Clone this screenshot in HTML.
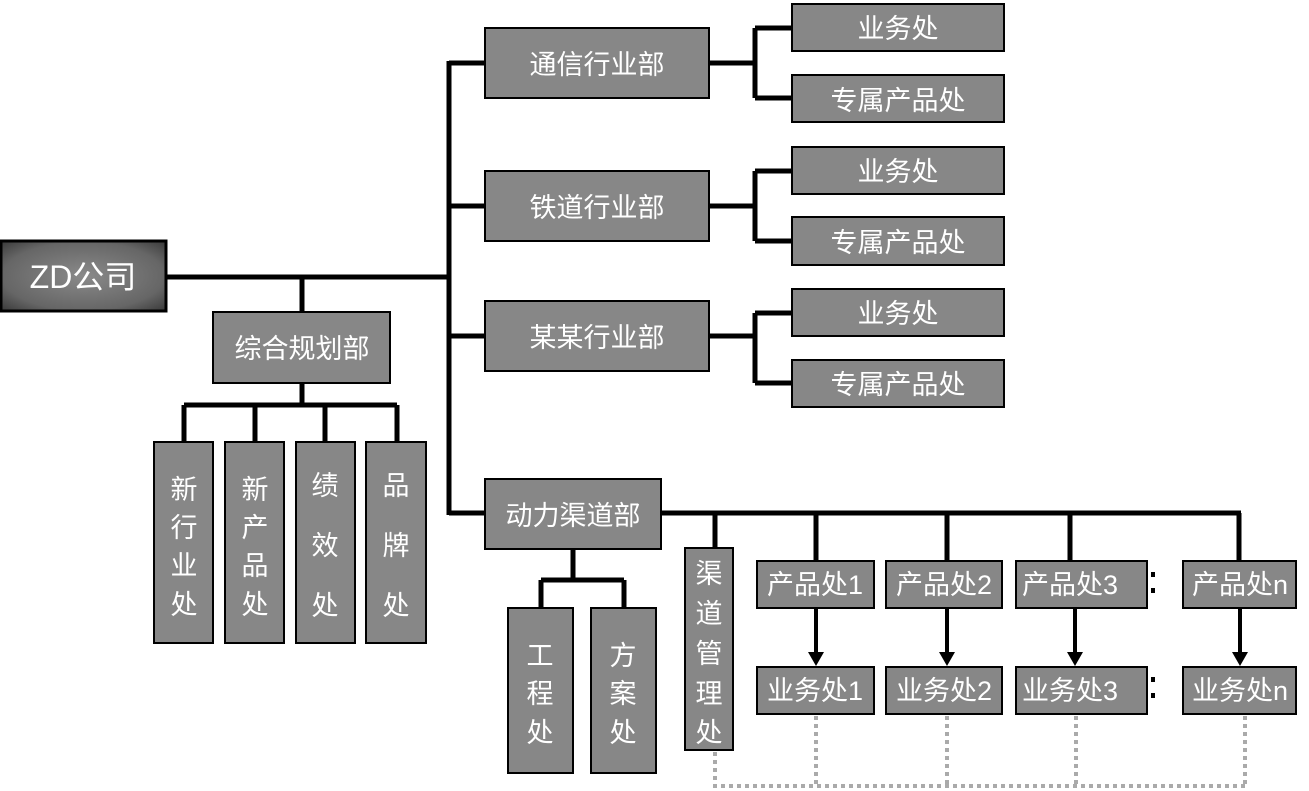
<!DOCTYPE html>
<html><head><meta charset="utf-8"><style>
html,body{margin:0;padding:0;background:#fff;}
svg{display:block;}
text{font-family:"Liberation Sans","Noto Sans CJK SC",sans-serif;fill:#fff;font-size:27px;text-anchor:middle;dominant-baseline:central;}
.b{fill:#878787;stroke:#000;stroke-width:2;}
.l{stroke:#000;stroke-width:5;fill:none;}
.d{stroke:#aaa;stroke-width:4;fill:none;stroke-dasharray:4 4;}
</style></head><body>
<svg width="1309" height="791" viewBox="0 0 1309 791" xmlns="http://www.w3.org/2000/svg">
<defs>
<radialGradient id="g" cx="50%" cy="50%" r="70%"><stop offset="0" stop-color="#8a8a8a"/><stop offset="0.7" stop-color="#666"/><stop offset="1" stop-color="#3a3a3a"/></radialGradient>
</defs>
<path class="l" d="M166 277H449M449 61V515M449 63H485M449 206H485M449 336H485M449 513H485"/>
<path class="l" d="M302 277V312M302 383V405M184 405H397M184 405V442M255 405V442M325 405V442M397 405V442"/>
<path class="l" d="M709 63H755M755 28V98M755 28H792M755 98H792"/>
<path class="l" d="M709 206H755M755 171V241M755 171H792M755 241H792"/>
<path class="l" d="M709 336H755M755 313V383M755 313H792M755 383H792"/>
<path class="l" d="M661 513H1241M715 513V548M816 513V561M947 513V561M1070 513V561M1239 513V561"/>
<path class="l" d="M573 549V580M541 580H624M541 580V608M624 580V608"/>
<path stroke="#000" stroke-width="4" d="M816 608V655M947 608V655M1075 608V655M1240 608V655"/>
<path fill="#000" d="M808 652h16l-8 14zM939 652h16l-8 14zM1067 652h16l-8 14zM1232 652h16l-8 14z"/>
<path class="d" d="M715 752V786H1246M816 716V786M947 716V786M1076 716V786M1245 716V786"/>
<rect x="1" y="241" width="165" height="70" fill="url(#g)" stroke="#000" stroke-width="3"/>
<text x="83" y="277" style="font-size:32px">ZD公司</text>
<rect class="b" x="213" y="312" width="177" height="71"/><text x="302" y="349">综合规划部</text>
<rect class="b" x="154" y="442" width="59" height="201"/>
<text x="184" y="490">新</text><text x="184" y="528">行</text><text x="184" y="566">业</text><text x="184" y="605">处</text>
<rect class="b" x="225" y="442" width="59" height="201"/>
<text x="255" y="490">新</text><text x="255" y="528">产</text><text x="255" y="566">品</text><text x="255" y="605">处</text>
<rect class="b" x="296" y="442" width="59" height="201"/>
<text x="325" y="486">绩</text><text x="325" y="546">效</text><text x="325" y="606">处</text>
<rect class="b" x="366" y="442" width="60" height="201"/>
<text x="396" y="486">品</text><text x="396" y="546">牌</text><text x="396" y="606">处</text>
<rect class="b" x="485" y="28" width="224" height="70"/><text x="597" y="65">通信行业部</text>
<rect class="b" x="485" y="171" width="224" height="70"/><text x="597" y="208">铁道行业部</text>
<rect class="b" x="485" y="301" width="224" height="70"/><text x="597" y="338">某某行业部</text>
<rect class="b" x="485" y="479" width="176" height="70"/><text x="573" y="516">动力渠道部</text>
<rect class="b" x="792" y="4" width="212" height="47"/><text x="898" y="29">业务处</text>
<rect class="b" x="792" y="75" width="212" height="47"/><text x="898" y="101">专属产品处</text>
<rect class="b" x="792" y="147" width="212" height="47"/><text x="898" y="172">业务处</text>
<rect class="b" x="792" y="217" width="212" height="48"/><text x="898" y="243">专属产品处</text>
<rect class="b" x="792" y="289" width="212" height="47"/><text x="898" y="314">业务处</text>
<rect class="b" x="792" y="360" width="212" height="47"/><text x="898" y="385">专属产品处</text>
<rect class="b" x="508" y="608" width="65" height="165"/>
<text x="540" y="656">工</text><text x="540" y="694">程</text><text x="540" y="733">处</text>
<rect class="b" x="591" y="608" width="65" height="165"/>
<text x="623" y="656">方</text><text x="623" y="694">案</text><text x="623" y="733">处</text>
<rect class="b" x="685" y="548" width="48" height="202"/>
<text x="709" y="574">渠</text><text x="709" y="614">道</text><text x="709" y="654">管</text><text x="709" y="694">理</text><text x="709" y="733">处</text>
<rect class="b" x="757" y="561" width="117" height="47"/><text x="815" y="585">产品处1</text>
<rect class="b" x="886" y="561" width="116" height="47"/><text x="944" y="585">产品处2</text>
<rect class="b" x="1016" y="561" width="131" height="47"/><text x="1070" y="585">产品处3</text>
<rect class="b" x="1183" y="561" width="113" height="47"/><text x="1240" y="585">产品处n</text>
<rect class="b" x="757" y="667" width="117" height="47"/><text x="815" y="691">业务处1</text>
<rect class="b" x="886" y="667" width="116" height="47"/><text x="944" y="691">业务处2</text>
<rect class="b" x="1016" y="667" width="131" height="47"/><text x="1070" y="691">业务处3</text>
<rect class="b" x="1183" y="667" width="113" height="47"/><text x="1240" y="691">业务处n</text>
<rect x="1151" y="572" width="4" height="5" fill="#000"/><rect x="1151" y="588" width="4" height="5" fill="#000"/>
<rect x="1151" y="677" width="4" height="5" fill="#000"/><rect x="1151" y="693" width="4" height="5" fill="#000"/>
</svg>
</body></html>
